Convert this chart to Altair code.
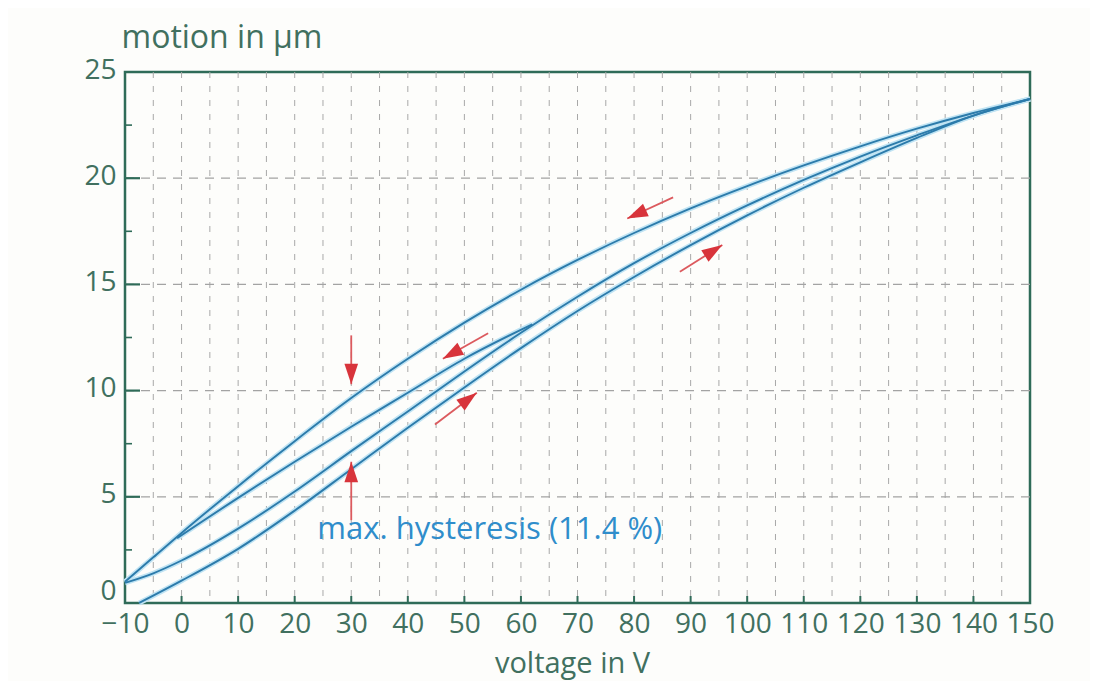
import math
import altair as alt
import pandas as pd

# ---------------- data ----------------
# outer descending branch (150 V -> -10 V)
b_v = [150, 140, 130, 120, 110, 100, 90, 80, 70, 60, 50, 40, 30, 20, 10, 0, -5, -10]
b_y = [23.73, 23.07, 22.33, 21.5, 20.6, 19.63, 18.58, 17.42, 16.15, 14.75, 13.2, 11.5, 9.65, 7.62, 5.5, 3.3, 2.15, 1.0]

# ascending branch starting at -10 V
c_v = [-10, -5, 0, 10, 20, 30, 40, 50, 60, 70, 80, 90, 100, 110, 120, 130, 140, 150]
c_y = [0.95, 1.4, 2.0, 3.5, 5.25, 7.15, 9.02, 10.9, 12.72, 14.42, 16.0, 17.42, 18.72, 19.92, 21.02, 22.02, 22.95, 23.73]

# inner descending branch (62 V -> -1 V)
d_v = [62, 50, 40, 30, 20, 10, -0.8]
d_y = [13.12, 11.5, 9.9, 8.3, 6.65, 4.95, 3.05]

# lowest ascending branch
a_v = [-7.5, 0, 10, 20, 30, 40, 50, 60, 70, 80, 90, 100, 110, 120, 130, 140, 150]
a_y = [0.0, 1.05, 2.55, 4.35, 6.3, 8.25, 10.15, 12.0, 13.75, 15.35, 16.85, 18.25, 19.55, 20.75, 21.9, 22.95, 23.73]

# red direction arrows (start -> tip)
arr_x0 = [30, 30, 54.2, 44.8, 86.9, 88.1]
arr_y0 = [12.6, 3.9, 12.7, 8.4, 19.1, 15.6]
arr_x1 = [30, 30, 46.2, 52.2, 78.8, 95.6]
arr_y1 = [10.3, 6.65, 11.5, 9.9, 18.1, 16.85]

note_text = ["max. hysteresis (11.4 %)"]
note_x = [24.0]
note_y = [3.45]

x_ticks = list(range(-10, 151, 10))
x_grid = list(range(-5, 150, 5))
y_ticks = [0, 5, 10, 15, 20, 25]
y_grid = [5, 10, 15, 20]
y_minor = [2.5, 7.5, 12.5, 17.5, 22.5]
x_tick_marks = list(range(0, 150, 10))

# ---------------- layout / style ----------------
W, H = 905, 531
XMIN, XMAX, YMIN, YMAX = -10, 150, 0, 25
GREEN = "#2f6b58"
LABEL = "#41705f"
BLUE = "#2c7bab"
HALO = "#bfe3f3"
RED = "#d8343b"
FONT = "Open Sans"

xs = alt.Scale(domain=[XMIN, XMAX], nice=False, zero=False)
ys = alt.Scale(domain=[YMIN, YMAX], nice=False, zero=False)

x_axis = alt.Axis(
    values=x_ticks, ticks=False, domain=False, grid=False,
    labelExpr="datum.value < 0 ? '\u2212' + abs(datum.value) : datum.label",
    labelPadding=7, labelFontSize=28, labelColor=LABEL, labelFont=FONT,
    title="voltage in V", titleFont=FONT, titleFontSize=29, titleColor=LABEL,
    titleFontWeight="normal", titleX=447, titleY=69, titleAlign="center",
    titleBaseline="alphabetic", labelFlush=False, labelOverlap=False,
)
y_axis = alt.Axis(
    values=y_ticks, ticks=False, domain=False, grid=False,
    labelPadding=9, labelFontSize=28, labelColor=LABEL, labelFont=FONT,
    labelOffset={"condition": {"test": "datum.value == 0", "value": -12}, "value": -2},
    title="motion in \u03bcm", titleFont=FONT, titleFontSize=32, titleColor=LABEL,
    titleFontWeight="normal", titleAngle=0, titleAlign="left",
    titleBaseline="alphabetic", titleX=-4, titleY=-25, labelFlush=False,
    labelOverlap=False,
)

curves = pd.concat([
    pd.DataFrame({"v": b_v, "y": b_y, "c": "B"}),
    pd.DataFrame({"v": c_v, "y": c_y, "c": "C"}),
    pd.DataFrame({"v": d_v, "y": d_y, "c": "D"}),
    pd.DataFrame({"v": a_v, "y": a_y, "c": "A"}),
])

px_x = W / (XMAX - XMIN)
px_y = H / (YMAX - YMIN)
angles = []
for x0, y0, x1, y1 in zip(arr_x0, arr_y0, arr_x1, arr_y1):
    a = math.degrees(math.atan2((x1 - x0) * px_x, (y1 - y0) * px_y)) % 360
    angles.append(a)
arrows = pd.DataFrame({"v": arr_x0, "y": arr_y0, "v1": arr_x1, "y1": arr_y1, "ang": angles})

X = lambda f: alt.X(f, scale=xs, axis=x_axis, title="voltage in V")
Y = lambda f: alt.Y(f, scale=ys, axis=y_axis, title="motion in \u03bcm")

vgrid = alt.Chart(pd.DataFrame({"v": x_grid})).mark_rule(
    color="#a8a8a8", strokeWidth=1, strokeDash=[6, 8]
).encode(x=X("v:Q"))

hgrid = alt.Chart(pd.DataFrame({"y": y_grid})).mark_rule(
    color="#a3a3a3", strokeWidth=1.2, strokeDash=[9, 7]
).encode(y=Y("y:Q"))

ytick_major = alt.Chart(pd.DataFrame({"y": y_grid})).mark_rule(
    color=GREEN, strokeWidth=2.2
).encode(y=Y("y:Q"), x=alt.value(0), x2=alt.value(15))

ytick_minor = alt.Chart(pd.DataFrame({"y": y_minor})).mark_rule(
    color=GREEN, strokeWidth=1.6
).encode(y=Y("y:Q"), x=alt.value(0), x2=alt.value(7))

xtick = alt.Chart(pd.DataFrame({"v": x_tick_marks})).mark_rule(
    color=GREEN, strokeWidth=2
).encode(x=X("v:Q"), y=alt.value(H), y2=alt.value(H - 7))

halo = alt.Chart(curves).mark_line(
    color=HALO, strokeWidth=5, interpolate="monotone"
).encode(x=X("v:Q"), y=Y("y:Q"), detail="c:N")

core = alt.Chart(curves).mark_line(
    color=BLUE, strokeWidth=1.9, interpolate="monotone"
).encode(x=X("v:Q"), y=Y("y:Q"), detail="c:N")

shafts = alt.Chart(arrows).mark_rule(color="#dc5a5e", strokeWidth=1.8).encode(
    x=X("v:Q"), y=Y("y:Q"), x2="v1:Q", y2="y1:Q",
)
heads = alt.Chart(arrows).mark_point(
    shape="M0,0L0.6,1.8L-0.6,1.8Z", filled=True, color=RED, opacity=1,
    size=520, strokeWidth=0,
).encode(
    x=X("v1:Q"), y=Y("y1:Q"),
    angle=alt.Angle("ang:Q", scale=None),
)

note = alt.Chart(pd.DataFrame({"t": note_text, "v": note_x, "y": note_y})).mark_text(
    align="left", baseline="middle", font=FONT, fontSize=31, color="#2f8dcb"
).encode(x=X("v:Q"), y=Y("y:Q"), text="t:N")

chart = alt.layer(
    vgrid, hgrid, halo, core, ytick_minor, ytick_major, xtick, shafts, heads, note
).properties(
    width=W, height=H,
    autosize=alt.AutoSizeParams(type="none"),
    padding={"left": 117, "top": 64, "right": 60, "bottom": 78},
    background="#fdfdfb",
).configure_view(
    stroke=GREEN, strokeWidth=2.5
)

chart.save("out.html", embed_options={"renderer": "svg", "actions": False})
